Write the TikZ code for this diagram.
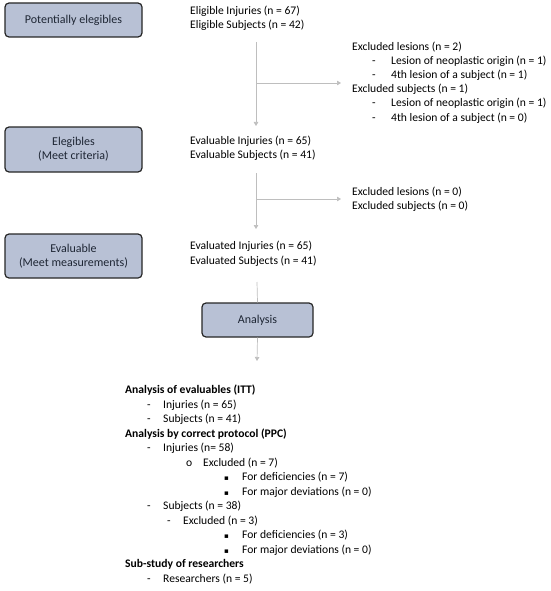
\documentclass[tikz,border=0pt]{standalone}
\usepackage{fontspec}
\setmainfont{Carlito}
\newfontfamily\dejavu{DejaVu Sans}
\usetikzlibrary{arrows.meta}
\definecolor{boxfill}{RGB}{184,193,213}
\definecolor{boxtext}{RGB}{30,38,52}
\definecolor{linegray}{RGB}{190,190,190}
\begin{document}
\begin{tikzpicture}[x=1pt,y=-1pt,
  stage/.style={draw=black!85,line width=1.2pt,fill=boxfill,rounded corners=4pt,
    text=boxtext,align=center,font=\fontsize{12}{14}\selectfont,inner sep=0pt},
  txt/.style={anchor=west,inner sep=0pt,font=\fontsize{11.6}{14}\selectfont,text height=8.3pt,text depth=2.5pt},
  btxt/.style={txt,font=\fontsize{11.6}{14}\selectfont\bfseries},
  sq/.style={txt,font=\dejavu\fontsize{7}{9}\selectfont},
  conn/.style={draw=linegray,line width=0.7pt},
  arr/.style={conn,-{Triangle[width=4.5pt,length=4pt,fill=linegray,color=linegray]}}]
\useasboundingbox (0,0) rectangle (550,591);

% stage boxes
\node[stage,minimum width=137pt,minimum height=34pt] (b1) at (73.5,20) {Potentially elegibles};
\node[stage,minimum width=137pt,minimum height=45pt] (b2) at (73.5,149.5) {Elegibles\\(Meet criteria)};
\node[stage,minimum width=137pt,minimum height=44pt] (b3) at (73.5,256) {Evaluable\\(Meet measurements)};
\node[stage,minimum width=111pt,minimum height=34pt] (b4) at (257.5,320) {Analysis};

% right texts
\node[txt] (t1a) at (190,12) {Eligible Injuries (n = 67)};
\node[txt] (t1b) at (190,26) {Eligible Subjects (n = 42)};
\node[txt] (t2a) at (190,142) {Evaluable Injuries (n = 65)};
\node[txt] (t2b) at (190,156) {Evaluable Subjects (n = 41)};
\node[txt] (t3a) at (190,247) {Evaluated Injuries (n = 65)};
\node[txt] (t3b) at (190,262) {Evaluated Subjects (n = 41)};

% exclusions 1
\node[txt] (e1) at (352,48) {Excluded lesions (n = 2)};
\node[txt] (e1d1) at (372,62) {-};
\node[txt] (e1a) at (391,62) {Lesion of neoplastic origin (n = 1)};
\node[txt] (e1d2) at (372,76) {-};
\node[txt] (e1b) at (391,76) {4th lesion of a subject (n = 1)};
\node[txt] (e2) at (352,90) {Excluded subjects (n = 1)};
\node[txt] (e2d1) at (372,104) {-};
\node[txt] (e2a) at (391,104) {Lesion of neoplastic origin (n = 1)};
\node[txt] (e2d2) at (372,118.5) {-};
\node[txt] (e2b) at (391,118.5) {4th lesion of a subject (n = 0)};

% exclusions 2
\node[txt] (e3) at (352,193) {Excluded lesions (n = 0)};
\node[txt] (e4) at (352,207) {Excluded subjects (n = 0)};

% connectors
\coordinate (v1s) at (256,42);
\coordinate (v1e) at (256,126);
\coordinate (h1s) at (256,83);
\coordinate (h1e) at (341,83);
\draw[arr] (v1s) -- (v1e);
\draw[arr] (h1s) -- (h1e);

\coordinate (v2s) at (256,173);
\coordinate (v2e) at (256,229);
\coordinate (h2s) at (256,199);
\coordinate (h2e) at (341,199);
\draw[arr] (v2s) -- (v2e);
\draw[arr] (h2s) -- (h2e);

\coordinate (v3s) at (257,282);
\draw[conn] (v3s) -- (b4.north);
\coordinate (v4e) at (257,361);
\draw[arr] (b4.south) -- (v4e);

% bottom list
\node[btxt] (l1) at (125,391) {Analysis of evaluables (ITT)};
\node[txt] (l2d) at (147,405.5) {-};
\node[txt] (l2) at (163,405.5) {Injuries (n = 65)};
\node[txt] (l3d) at (147,420) {-};
\node[txt] (l3) at (163,420) {Subjects (n = 41)};
\node[btxt] (l4) at (125,434.5) {Analysis by correct protocol (PPC)};
\node[txt] (l5d) at (147,449) {-};
\node[txt] (l5) at (163,449) {Injuries (n= 58)};
\node[txt] (l6d) at (186,463.5) {o};
\node[txt] (l6) at (203,463.5) {Excluded (n = 7)};
\node[sq] (l7d) at (224,478) {▪};
\node[txt] (l7) at (242,478) {For deficiencies (n = 7)};
\node[sq] (l8d) at (224,492.5) {▪};
\node[txt] (l8) at (242,492.5) {For major deviations (n = 0)};
\node[txt] (l9d) at (147,507) {-};
\node[txt] (l9) at (163,507) {Subjects (n = 38)};
\node[txt] (l10d) at (167,521.5) {-};
\node[txt] (l10) at (183,521.5) {Excluded (n = 3)};
\node[sq] (l11d) at (224,536) {▪};
\node[txt] (l11) at (242,536) {For deficiencies (n = 3)};
\node[sq] (l12d) at (224,550.5) {▪};
\node[txt] (l12) at (242,550.5) {For major deviations (n = 0)};
\node[btxt] (l13) at (125,565) {Sub-study of researchers};
\node[txt] (l14d) at (147,579.5) {-};
\node[txt] (l14) at (163,579.5) {Researchers (n = 5)};
\end{tikzpicture}
\end{document}
